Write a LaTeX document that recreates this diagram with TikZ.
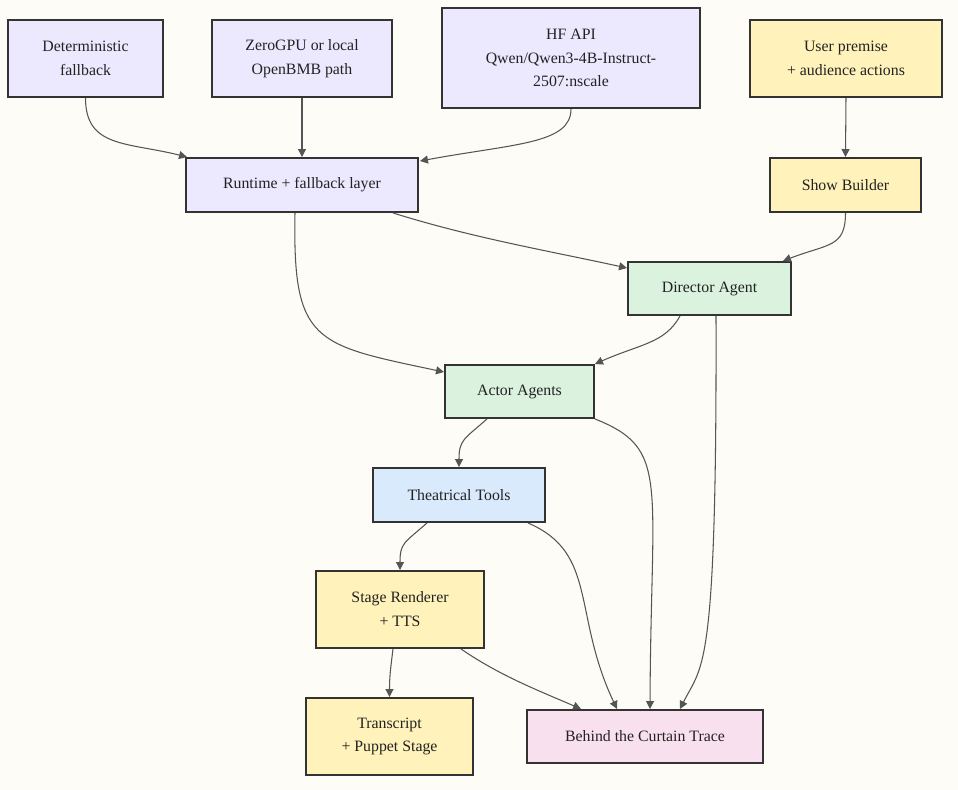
\documentclass[tikz,border=0pt]{standalone}
\usepackage{fontspec}
\setmainfont{Liberation Serif}
\usetikzlibrary{arrows.meta,positioning,calc,backgrounds}
\definecolor{stgPaper}{RGB}{253,252,247}
\definecolor{stgLilac}{RGB}{236,233,255}
\definecolor{stgButter}{RGB}{255,242,186}
\definecolor{stgMint}{RGB}{218,242,222}
\definecolor{stgSky}{RGB}{218,234,253}
\definecolor{stgRose}{RGB}{249,224,238}
\definecolor{stgInk}{RGB}{51,51,51}
\definecolor{stgWire}{RGB}{85,85,85}
\definecolor{stgText}{RGB}{34,34,34}
\tikzset{
  sbody/.style={font=\rmfamily\fontsize{9}{13.6}\selectfont,
    text=stgText, align=center, inner sep=0pt},
  sbox/.style={sbody, draw=stgInk, line width=1.1pt},
  swire/.style={-{Triangle[length=1.6mm,width=1.6mm]}, line width=.6pt,
    draw=stgWire, line join=round}
}

\begin{document}
\begin{tikzpicture}[
  infra/.style={sbox, fill=stgLilac},
  input/.style={sbox, fill=stgButter},
  agent/.style={sbox, fill=stgMint},
  tool/.style={sbox, fill=stgSky},
  trace/.style={sbox, fill=stgRose},
  flow/.style={swire}
]
\path[use as bounding box, fill=stgPaper] (0,0) rectangle (19.16,15.80);

\node[infra, minimum width=3.10cm, minimum height=1.54cm] (det) at (1.71,14.63)
  {Deterministic\\fallback};
\node[infra, minimum width=3.60cm, minimum height=1.54cm] (zero) at (6.04,14.63)
  {ZeroGPU or local\\OpenBMB path};
\node[infra, minimum width=5.16cm, minimum height=2.00cm] (hf) at (11.42,14.64)
  {HF API\\Qwen/Qwen3-4B-Instruct-\\2507:nscale};
\node[input, minimum width=3.84cm, minimum height=1.54cm] (premise) at (16.92,14.63)
  {User premise\\+ audience actions};

\node[infra, minimum width=4.64cm, minimum height=1.08cm] (runtime) at (6.04,12.10)
  {Runtime + fallback layer};
\node[input, minimum width=3.02cm, minimum height=1.08cm] (show) at (16.91,12.10)
  {Show Builder};

\node[agent, minimum width=3.26cm, minimum height=1.06cm] (director) at (14.19,10.03)
  {Director Agent};
\node[agent, minimum width=2.98cm, minimum height=1.06cm] (actor) at (10.39,7.97)
  {Actor Agents};
\node[tool, minimum width=3.44cm, minimum height=1.08cm] (tools) at (9.18,5.90)
  {Theatrical Tools};
\node[input, minimum width=3.36cm, minimum height=1.54cm] (stage) at (8.00,3.61)
  {Stage Renderer\\+ TTS};
\node[input, minimum width=3.34cm, minimum height=1.54cm] (transcript) at (7.79,1.07)
  {Transcript\\+ Puppet Stage};
\node[trace, minimum width=4.72cm, minimum height=1.06cm] (curtain) at (12.90,1.07)
  {Behind the Curtain Trace};

\draw[flow] (det.south) .. controls +(0,-1.0) and +(-1.2,0.3) .. ([xshift=.04cm]runtime.north west);
\draw[flow] (zero.south) -- (runtime.north);
\draw[flow] (hf.south) .. controls +(0,-0.7) and +(1.9,0.35) .. ([xshift=.02cm,yshift=-.08cm]runtime.north east);
\draw[flow] (premise.south) -- (show.north);
\draw[flow] (show.south) .. controls +(0,-0.7) and +(0.9,0.35) .. ([xshift=-.18cm]director.north east);
\draw[flow] ([xshift=-.52cm]runtime.south east) .. controls +(1.6,-0.5) and +(-1.6,0.35) .. ([yshift=-.14cm]director.north west);
\draw[flow] ([xshift=-.14cm]runtime.south) .. controls +(-0.05,-2.6) and +(-2.6,0.55) .. ([yshift=-.16cm]actor.north west);
\draw[flow] ([xshift=-.59cm]director.south) .. controls +(-0.3,-0.55) and +(0.9,0.4) .. (actor.north east);
\draw[flow] ([xshift=.13cm]director.south) .. controls +(0.02,-7.2) and +(0.45,0.9) .. ([xshift=.70cm]curtain.north);
\draw[flow] ([xshift=-.65cm]actor.south) .. controls +(-0.45,-0.4) and +(0,0.55) .. (tools.north);
\draw[flow] (actor.south east) .. controls +(1.5,-0.6) and +(0.02,4.6) .. ([xshift=.10cm]curtain.north);
\draw[flow] ([xshift=-.64cm]tools.south) .. controls +(-0.45,-0.4) and +(0,0.55) .. (stage.north);
\draw[flow] ([xshift=-.36cm]tools.south east) .. controls +(1.4,-0.6) and +(-0.9,1.9) .. ([xshift=-.56cm]curtain.north);
\draw[flow] ([xshift=-.14cm]stage.south) .. controls +(-0.05,-0.4) and +(0,0.4) .. (transcript.north);
\draw[flow] ([xshift=-.48cm]stage.south east) .. controls +(0.8,-0.55) and +(-0.8,0.35) .. ([xshift=1.10cm]curtain.north west);
\end{tikzpicture}
\end{document}
